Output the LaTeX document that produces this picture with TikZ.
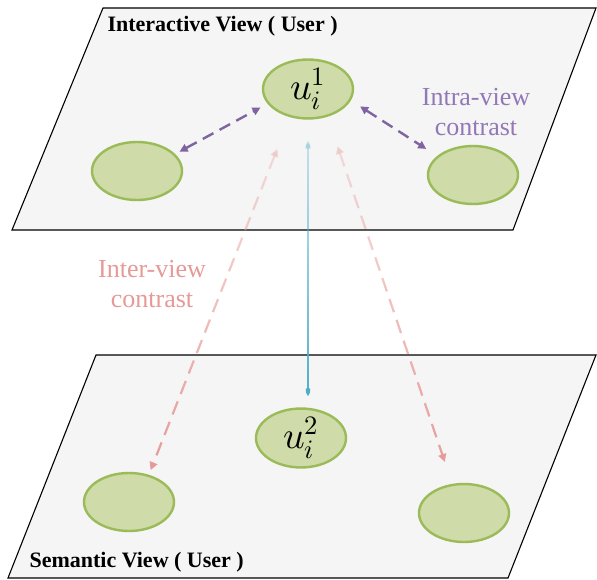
\documentclass[tikz,border=0pt]{standalone}
\usepackage{fontspec}
\usepackage{unicode-math}
\setmainfont{Liberation Serif}
\setmathfont{Latin Modern Math}
\usetikzlibrary{arrows.meta,fadings,shapes.geometric}

\definecolor{planegray}{HTML}{F5F5F5}
\definecolor{blobfill}{HTML}{CFDBA8}
\definecolor{blobedge}{HTML}{9BBB59}
\definecolor{intrapurple}{HTML}{8064A2}
\definecolor{intratext}{HTML}{9278B6}
\definecolor{interpink}{HTML}{E69A97}
\definecolor{crossblue}{HTML}{4BACC6}

% lines fade out towards the upper plane
\tikzfading[name=fadeup, top color=transparent!78, bottom color=transparent!0]

\begin{document}
\begin{tikzpicture}[x=1pt,y=-1pt,
  plane/.style={draw=black, line width=1.1pt, fill=planegray},
  blob/.style={ellipse, draw=blobedge, fill=blobfill, line width=2.4pt,
    minimum width=90pt, minimum height=58pt, inner sep=0pt,
    font=\fontsize{38}{40}\selectfont},
  intra/.style={draw=intrapurple, line width=2.4pt,
    dash pattern=on 12pt off 7pt, {Triangle[length=8pt,width=8pt]}-{Triangle[length=8pt,width=8pt]}},
  inter/.style={draw=interpink, line width=2.2pt,
    dash pattern=on 14pt off 8pt, {Triangle[length=8pt,width=8pt]}-{Triangle[length=8pt,width=8pt]},
    path fading=fadeup},
  cross/.style={draw=crossblue, line width=2.2pt,
    {Triangle[length=8pt,width=8pt]}-{Triangle[length=8pt,width=8pt]},
    path fading=fadeup},
  viewtitle/.style={anchor=west, font=\fontsize{22}{24}\selectfont\bfseries},
  contrast/.style={align=center, font=\fontsize{26}{30}\selectfont}
]
\useasboundingbox (0,0) rectangle (597,580);

% the two view planes
\path[plane] (103,8) -- (596,8) -- (513,230) -- (12,230) -- cycle;
\path[plane] (96,355) -- (596,355) -- (508,578) -- (8,578) -- cycle;

\node[viewtitle] (toptitle) at (104,26) {Interactive View ( User )};
\node[viewtitle] (bottomtitle) at (26,562) {Semantic View ( User )};

% user embeddings
\node[blob] (u1) at (308,89) {$u_i^1$};
\node[blob] (a1) at (137,171) {};
\node[blob] (b1) at (473,175) {};
\node[blob] (u2) at (301,438) {$u_i^2$};
\node[blob] (a2) at (129,502) {};
\node[blob] (b2) at (464,513) {};

% intra-view contrast
\draw[intra, shorten <=5pt, shorten >=8pt] (a1.24) -- (u1.200);
\draw[intra, shorten <=11pt, shorten >=13pt] (u1.345) -- (b1.152);
\node[contrast, text=intratext] (intralabel) at (476,112) {Intra-view\\contrast};

% inter-view contrast
\draw[inter, shorten <=34pt, shorten >=5pt] (u1.237) -- (a2.54);
\draw[inter, shorten <=31pt, shorten >=23pt] (u1.305) -- (b2.112);
\draw[cross, shorten <=21pt, shorten >=11pt] (u1.south) -- (u1.south |- u2.north);
\node[contrast, text=interpink] (interlabel) at (152,284) {Inter-view\\contrast};
\end{tikzpicture}
\end{document}
